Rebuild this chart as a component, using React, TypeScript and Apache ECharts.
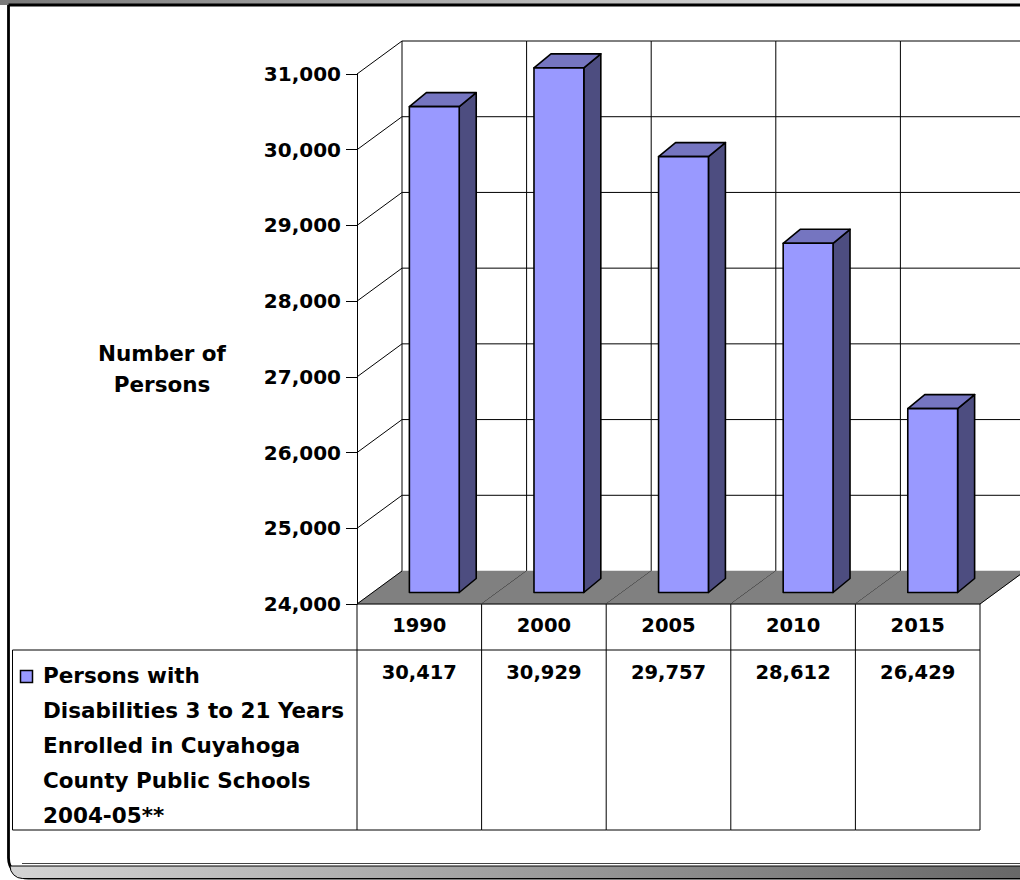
import React, { useEffect, useRef } from 'react';
import * as echarts from 'echarts';

// ---------- data ----------
const years = ['1990', '2000', '2005', '2010', '2015'];
const persons = [30417, 30929, 29757, 28612, 26429];
const yTicks = [24000, 25000, 26000, 27000, 28000, 29000, 30000, 31000];
const axisTitleLines = ['Number of', 'Persons'];
const seriesName = 'Persons with Disabilities 3 to 21 Years Enrolled in Cuyahoga County Public Schools 2004-05**';
const legendLines = ['Persons with', 'Disabilities 3 to 21 Years', 'Enrolled in Cuyahoga', 'County Public Schools', '2004-05**'];

// ---------- styles / layout ----------
const FONT = '"DejaVu Sans", sans-serif';
const Y_MIN = 24000;
const Y_MAX = 31000;
const DX = 45; // depth offset of back wall
const DY = -33;
const BAR_OX = 15; // bar front face offset from front plane
const BAR_OY = -11.5;
const BAR_DX = 17; // bar depth
const BAR_DY = -14;
const BAR_W = 0.4; // fraction of band
const TABLE_ROW1 = 46; // header row height below floor front
const TABLE_BOTTOM = 226;
const TABLE_LEFT = 12.5;
const FRONT = '#9999ff';
const TOP = '#7575c0';
const SIDE = '#4d4d80';
const FLOOR = '#808080';

const fmt = (v: number) => v.toLocaleString('en-US');

function line(x1: number, y1: number, x2: number, y2: number, w = 1) {
  return {
    type: 'line',
    shape: { x1, y1, x2, y2 },
    style: { stroke: '#000', lineWidth: w },
  };
}

export default function App() {
  const ref = useRef<HTMLDivElement>(null);

  useEffect(() => {
    if (!ref.current) return;
    const chart = echarts.init(ref.current, undefined, { renderer: 'svg' });

    const wallsRender = (params: any, api: any) => {
      const i = api.value(0);
      const [xc, yb] = api.coord([i, Y_MIN]);
      const bw = api.size([1, 0])[0];
      const xl = xc - bw / 2;
      const xr = xc + bw / 2;
      const children: any[] = [];
      const yTop = api.coord([i, Y_MAX])[1] + DY;
      // back wall gridlines
      for (const t of yTicks) {
        if (t === Y_MIN) continue;
        const y = api.coord([i, t])[1] + DY;
        children.push(line(xl + DX, y, xr + DX, y));
      }
      children.push(line(xr + DX, yTop, xr + DX, yb + DY));
      if (i === 0) {
        children.push(line(xl + DX, yTop, xl + DX, yb + DY));
        for (const t of yTicks) {
          if (t === Y_MIN) continue;
          const y = api.coord([i, t])[1];
          children.push(line(xl, y, xl + DX, y + DY));
        }
      }
      // floor
      children.push({
        type: 'polygon',
        shape: { points: [[xl, yb], [xr, yb], [xr + DX, yb + DY], [xl + DX, yb + DY]] },
        style: { fill: FLOOR, stroke: FLOOR, lineWidth: 0.5 },
      });
      children.push(line(xr, yb, xr + DX, yb + DY));
      if (i === 0) children.push(line(xl, yb, xl + DX, yb + DY));
      children.push(line(xl, yb, xr, yb));
      // data table
      children.push(line(xr, yb, xr, yb + TABLE_BOTTOM));
      children.push(line(xl, yb + TABLE_ROW1, xr, yb + TABLE_ROW1));
      children.push(line(xl, yb + TABLE_BOTTOM, xr, yb + TABLE_BOTTOM));
      if (i === 0) {
        children.push(line(xl, yb, xl, yb + TABLE_BOTTOM));
        children.push(line(TABLE_LEFT, yb + TABLE_ROW1, xl, yb + TABLE_ROW1));
        children.push(line(TABLE_LEFT, yb + TABLE_BOTTOM, xl, yb + TABLE_BOTTOM));
        children.push(line(TABLE_LEFT, yb + TABLE_ROW1, TABLE_LEFT, yb + TABLE_BOTTOM));
      }
      return { type: 'group', children };
    };

    const barsRender = (params: any, api: any) => {
      const i = api.value(0);
      const v = api.value(1);
      const [xc, yb] = api.coord([i, Y_MIN]);
      const yv = api.coord([i, v])[1];
      const bw = api.size([1, 0])[0];
      const fw = bw * BAR_W;
      const x0 = xc - fw / 2 + BAR_OX;
      const x1 = x0 + fw;
      const yt = yv + BAR_OY;
      const yB = yb + BAR_OY;
      const st = { stroke: '#000', lineWidth: 1.6, lineJoin: 'round' };
      return {
        type: 'group',
        children: [
          {
            type: 'polygon',
            shape: { points: [[x1, yt], [x1 + BAR_DX, yt + BAR_DY], [x1 + BAR_DX, yB + BAR_DY], [x1, yB]] },
            style: { ...st, fill: SIDE },
          },
          {
            type: 'polygon',
            shape: { points: [[x0, yt], [x1, yt], [x1 + BAR_DX, yt + BAR_DY], [x0 + BAR_DX, yt + BAR_DY]] },
            style: { ...st, fill: TOP },
          },
          {
            type: 'rect',
            shape: { x: x0, y: yt, width: fw, height: yB - yt },
            style: { ...st, fill: FRONT },
          },
        ],
      };
    };

    const option: any = {
      animation: false,
      backgroundColor: '#fff',
      grid: { left: 357, top: 74, width: 623, height: 530, containLabel: false },
      xAxis: [
        {
          type: 'category',
          data: years,
          position: 'bottom',
          axisLine: { show: false },
          axisTick: { show: false },
          splitLine: { show: false },
          axisLabel: { color: '#000', fontFamily: FONT, fontWeight: 'bold', fontSize: 19.5, margin: 11.5 },
        },
        {
          type: 'category',
          data: persons.map(fmt),
          position: 'bottom',
          offset: 46,
          axisLine: { show: false },
          axisTick: { show: false },
          splitLine: { show: false },
          axisLabel: { color: '#000', fontFamily: FONT, fontWeight: 'bold', fontSize: 19.5, margin: 12.5 },
        },
      ],
      yAxis: {
        type: 'value',
        min: Y_MIN,
        max: Y_MAX,
        interval: 1000,
        axisLine: { show: true, lineStyle: { color: '#000', width: 1 } },
        axisTick: { show: true, length: 11, lineStyle: { color: '#000', width: 1 } },
        splitLine: { show: false },
        axisLabel: {
          color: '#000',
          fontFamily: FONT,
          fontWeight: 'bold',
          fontSize: 20,
          margin: 16,
          formatter: (v: number) => fmt(v),
        },
      },
      graphic: [
        {
          type: 'rect',
          z: -10,
          silent: true,
          shape: { x: 0, y: 0, width: 1020, height: 5 },
          style: {
            fill: new echarts.graphic.LinearGradient(0, 0, 1, 0, [
              { offset: 0, color: '#7a7a7a' },
              { offset: 1, color: '#f2f2f2' },
            ]),
          },
        },
        {
          type: 'rect',
          z: -9,
          silent: true,
          shape: { x: 8.5, y: 5, width: 1100, height: 873, r: [0, 0, 0, 20] },
          style: { fill: '#fff', stroke: '#000', lineWidth: 2.8 },
        },
        {
          type: 'rect',
          z: -8,
          silent: true,
          shape: { x: 10, y: 866, width: 1100, height: 12.5, r: [0, 0, 0, 14] },
          style: {
            fill: new echarts.graphic.LinearGradient(0, 0, 1, 0, [
              { offset: 0, color: '#d4d4d4' },
              { offset: 1, color: '#5e5e5e' },
            ]),
            stroke: '#000',
            lineWidth: 1,
          },
        },
        {
          type: 'line',
          z: -7,
          silent: true,
          shape: { x1: 22, y1: 863.5, x2: 1020, y2: 863.5 },
          style: { stroke: '#444', lineWidth: 1 },
        },
        {
          type: 'text',
          z: 10,
          x: 162,
          y: 338,
          style: {
            text: axisTitleLines.join('\n'),
            font: `bold 21.5px ${FONT}`,
            fill: '#000',
            align: 'center',
            verticalAlign: 'top',
            lineHeight: 31,
          },
        },
        {
          type: 'rect',
          z: 10,
          shape: { x: 20.5, y: 670.5, width: 12, height: 12 },
          style: { fill: FRONT, stroke: '#000', lineWidth: 1.5 },
        },
        {
          type: 'text',
          z: 10,
          x: 43,
          y: 657.5,
          style: {
            text: legendLines.join('\n'),
            font: `bold 21.5px ${FONT}`,
            fill: '#000',
            align: 'left',
            verticalAlign: 'top',
            lineHeight: 35,
          },
        },
      ],
      series: [
        {
          type: 'custom',
          name: 'walls',
          silent: true,
          z: 1,
          renderItem: wallsRender,
          encode: { x: 0, y: 1 },
          data: years.map((_, i) => [i, Y_MIN]),
        },
        {
          type: 'custom',
          name: seriesName,
          z: 3,
          renderItem: barsRender,
          encode: { x: 0, y: 1 },
          data: persons.map((v, i) => [i, v]),
        },
      ],
    };

    chart.setOption(option);
    return () => chart.dispose();
  }, []);

  return (
    <div
      ref={ref}
      style={{ position: 'absolute', left: 0, top: 0, width: 1020, height: 880 }}
    />
  );
}
